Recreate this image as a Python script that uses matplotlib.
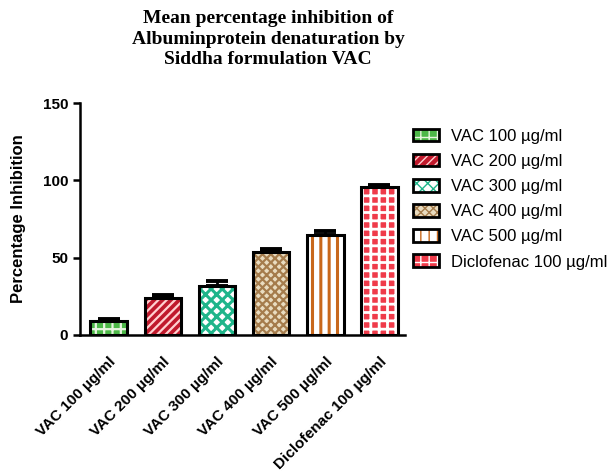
import matplotlib
matplotlib.use("Agg")
import matplotlib.pyplot as plt
import matplotlib.patches as mpatches
import numpy as np

categories = ["VAC 100 µg/ml", "VAC 200 µg/ml", "VAC 300 µg/ml",
              "VAC 400 µg/ml", "VAC 500 µg/ml", "Diclofenac 100 µg/ml"]
values = [9.0, 23.6, 31.7, 53.8, 65.0, 95.9]
errors = [1.5, 2.2, 3.2, 1.8, 2.0, 1.2]

face_colors = ["#4db848", "#c0192c", "#ffffff", "#e9dcc0", "#ffffff", "#ef3b4a"]
hatch_colors = ["#e8f5e0", "#ffd0d0", "#1fb58a", "#a57c4c", "#c8681c", "#ffffff"]
hatches = ["++", "////", "xxx", "xxxx", "||", "++"]
hatch_widths = [1.6, 1.6, 2.2, 1.6, 2.2, 2.0]

plt.rcParams['font.family'] = ['Liberation Sans', 'DejaVu Sans']

fig = plt.figure(figsize=(6.12, 4.73), dpi=100)
ax = fig.add_axes([0.131, 0.2918, 0.531, 0.4902])

x = np.arange(len(categories))
width = 0.68
handles = []
for i in range(len(categories)):
    with plt.rc_context({'hatch.linewidth': hatch_widths[i]}):
        ax.bar(x[i], values[i], width, color=face_colors[i], edgecolor=hatch_colors[i],
               hatch=hatches[i], linewidth=0, zorder=2)
        p1 = mpatches.Patch(facecolor=face_colors[i], edgecolor=hatch_colors[i],
                            hatch=hatches[i], linewidth=0)
    ax.bar(x[i], values[i], width, fill=False, edgecolor='black', linewidth=2.2, zorder=3)
    ax.errorbar(x[i], values[i], yerr=[[0], [errors[i]]], fmt='none', ecolor='black',
                elinewidth=2, capsize=8, capthick=2.8, zorder=4)
    p2 = mpatches.Patch(fill=False, edgecolor='black', linewidth=2)
    handles.append((p1, p2))

ax.set_xlim(-0.53, 5.48)
ax.set_ylim(0, 150)
ax.set_yticks([0, 50, 100, 150])
for s in ['top', 'right']:
    ax.spines[s].set_visible(False)
for s in ['left', 'bottom']:
    ax.spines[s].set_linewidth(1.8)
ax.tick_params(axis='y', width=1.8, length=5, labelsize=11)
ax.tick_params(axis='x', length=0, labelsize=11, pad=14)
for lab in ax.get_yticklabels():
    lab.set_fontweight('bold')
ax.set_xticks(x)
ax.set_xticklabels(categories, rotation=45, ha='right', rotation_mode='anchor', fontweight='bold')
ax.set_ylabel("Percentage Inhibition", fontsize=12, fontweight='bold', labelpad=12)

fig.text(0.438, 0.978, "Mean percentage inhibition of\nAlbuminprotein denaturation by\nSiddha formulation VAC",
         ha='center', va='top', fontsize=14, fontweight='bold', family=['Liberation Serif'],
         linespacing=1.25)

leg = fig.legend(handles, categories, loc='upper left', bbox_to_anchor=(0.65, 0.76),
                 frameon=False, fontsize=12, handlelength=1.6, handleheight=0.8,
                 labelspacing=0.6, handletextpad=0.7)

fig.savefig("out.png", dpi=100)
